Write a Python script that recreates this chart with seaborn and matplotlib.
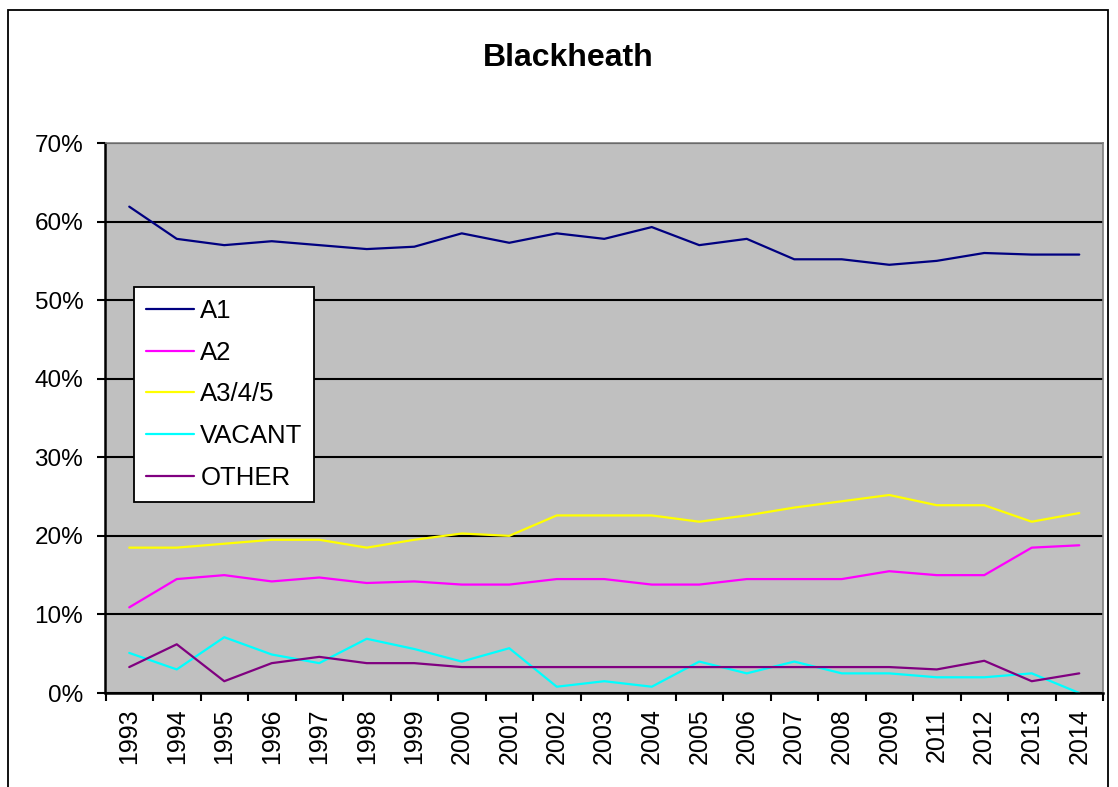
import numpy as np
import pandas as pd
import seaborn as sns
import matplotlib.pyplot as plt
from matplotlib.patches import Rectangle
from matplotlib.ticker import FuncFormatter, MultipleLocator

years = ["1993", "1994", "1995", "1996", "1997", "1998", "1999", "2000", "2001", "2002",
         "2003", "2004", "2005", "2006", "2007", "2008", "2009", "2011", "2012", "2013", "2014"]

a1 = [61.9, 57.8, 57.0, 57.5, 57.0, 56.5, 56.8, 58.5, 57.3, 58.5, 57.8,
      59.3, 57.0, 57.8, 55.2, 55.2, 54.5, 55.0, 56.0, 55.8, 55.8]
a2 = [10.9, 14.5, 15.0, 14.2, 14.7, 14.0, 14.2, 13.8, 13.8, 14.5, 14.5,
      13.8, 13.8, 14.5, 14.5, 14.5, 15.5, 15.0, 15.0, 18.5, 18.8]
a345 = [18.5, 18.5, 19.0, 19.5, 19.5, 18.5, 19.5, 20.3, 20.0, 22.6, 22.6,
        22.6, 21.8, 22.6, 23.6, 24.4, 25.2, 23.9, 23.9, 21.8, 22.9]
vacant = [5.1, 3.0, 7.1, 4.9, 3.8, 6.9, 5.6, 4.0, 5.7, 0.8, 1.5,
          0.8, 4.0, 2.5, 4.0, 2.5, 2.5, 2.0, 2.0, 2.5, 0.0]
other = [3.3, 6.2, 1.5, 3.8, 4.6, 3.8, 3.8, 3.3, 3.3, 3.3, 3.3,
         3.3, 3.3, 3.3, 3.3, 3.3, 3.3, 3.0, 4.1, 1.5, 2.5]

series_names = ["A1", "A2", "A3/4/5", "VACANT", "OTHER"]
colors = ["#000080", "#FF00FF", "#FFFF00", "#00FFFF", "#800080"]

# long-form table for seaborn
pos = np.arange(len(years))
df = pd.concat([
    pd.DataFrame({"pos": pos, "value": vals, "use": name})
    for name, vals in zip(series_names, [a1, a2, a345, vacant, other])
])

sns.set_style("white")
plt.rcParams["font.family"] = ["Liberation Sans", "DejaVu Sans"]
plt.rcParams["text.color"] = "black"
plt.rcParams["xtick.color"] = "black"
plt.rcParams["ytick.color"] = "black"

fig = plt.figure(figsize=(11.18, 7.87), dpi=100)
ax = fig.add_axes([105.5/1118, 1 - 693/787, 997.5/1118, 550/787])
ax.set_facecolor("#C0C0C0")

sns.lineplot(data=df, x="pos", y="value", hue="use", palette=colors,
             hue_order=series_names, linewidth=1.6, ax=ax, legend=True)

ax.set_xlim(-0.5, len(years) - 0.5)
ax.set_ylim(0, 70)
ax.yaxis.set_major_locator(MultipleLocator(10))
ax.yaxis.set_major_formatter(FuncFormatter(lambda v, p: f"{v:.0f}%"))
ax.grid(axis="y", color="black", linewidth=1.5)
ax.set_axisbelow(True)

# category labels centred, tick marks at the boundaries
ax.set_xticks(pos)
ax.set_xticklabels(years, rotation=90, fontsize=18)
ax.set_xticks(np.arange(-0.5, len(years)), minor=True)
ax.tick_params(axis="x", which="major", bottom=False, length=0, pad=11)
ax.tick_params(axis="x", which="minor", bottom=True, length=6, width=1.5,
               color="black", direction="out")
ax.tick_params(axis="y", left=True, length=6, width=1.5, color="black",
               direction="out", labelsize=17.5, pad=10)
ax.set_xlabel("")
ax.set_ylabel("")

for side in ["left", "bottom"]:
    ax.spines[side].set_color("black")
    ax.spines[side].set_linewidth(1.8)
for side in ["top", "right"]:
    ax.spines[side].set_color("#808080")
    ax.spines[side].set_linewidth(1.2)

leg = ax.legend(loc="upper left", bbox_to_anchor=(28.5/997.5, (693 - 287)/550),
                borderaxespad=0, frameon=True, fancybox=False, edgecolor="black",
                framealpha=1, fontsize=18.5, handlelength=1.86, labelspacing=0.69,
                borderpad=0.46, handletextpad=0.26)
leg.get_frame().set_linewidth(1.3)

fig.text(568/1118, 1 - 58/787, "Blackheath", ha="center", va="center",
         fontsize=23, fontweight="bold", color="black")

# outer chart border
fig.patches.append(Rectangle((8/1118, -0.02), 1100/1118, 1.02 - 10/787,
                             transform=fig.transFigure, fill=False,
                             edgecolor="black", linewidth=1.3))

plt.savefig("out.png", dpi=100)
